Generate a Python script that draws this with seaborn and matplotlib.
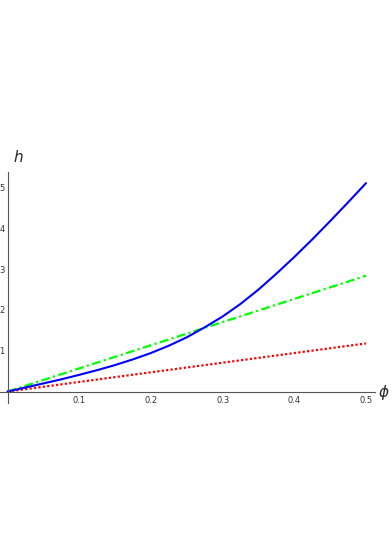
import numpy as np
import pandas as pd
import matplotlib
matplotlib.use("Agg")
import matplotlib.pyplot as plt
import seaborn as sns
from matplotlib.ticker import FixedLocator

# Values
phi = [0.0, 0.025, 0.05, 0.075, 0.1, 0.125, 0.15, 0.175, 0.2, 0.225, 0.25,
       0.275, 0.3, 0.325, 0.35, 0.375, 0.4, 0.425, 0.45, 0.475, 0.5]
h_blue = [0.0, 0.10, 0.20, 0.30, 0.41, 0.525, 0.65, 0.79, 0.945, 1.125, 1.33,
          1.575, 1.84, 2.15, 2.50, 2.89, 3.30, 3.73, 4.18, 4.64, 5.11]
phi_lin = [0.0, 0.5]
h_green = [0.0, 2.84]
h_red = [0.0, 1.18]

x_major = [0.1, 0.2, 0.3, 0.4, 0.5]
x_labels = ["0.1", "0.2", "0.3", "0.4", "0.5"]
y_major = [1, 2, 3, 4, 5]
y_labels = ["1", "2", "3", "4", "5"]

sns.set_style("white")

fig = plt.figure(figsize=(3.92, 5.55), dpi=100)
ax = fig.add_axes([0.0, 0.2739, 0.9566, 0.4167])

df_blue = pd.DataFrame({"phi": phi, "h": h_blue})
df_lin = pd.DataFrame({"phi": phi_lin, "green": h_green, "red": h_red})

sns.lineplot(data=df_lin, x="phi", y="red", ax=ax, color=(1, 0, 0),
             linewidth=1.6, linestyle=(0, (1, 1)))
sns.lineplot(data=df_lin, x="phi", y="green", ax=ax, color=(0, 1, 0),
             linewidth=1.6, linestyle=(0, (4, 1.5, 1, 1.5)))
sns.lineplot(data=df_blue, x="phi", y="h", ax=ax, color=(0, 0, 1), linewidth=1.5)

ax.set_xlim(-0.0105, 0.5125)
ax.set_ylim(-0.28, 5.39)

for s in ["top", "right"]:
    ax.spines[s].set_visible(False)
for s in ["left", "bottom"]:
    ax.spines[s].set_position(("data", 0))
    ax.spines[s].set_color("#555555")
    ax.spines[s].set_linewidth(0.8)

ax.xaxis.set_major_locator(FixedLocator(x_major))
ax.set_xticklabels(x_labels)
ax.xaxis.set_minor_locator(FixedLocator([m / 50 for m in range(1, 26) if m % 5]))
ax.yaxis.set_major_locator(FixedLocator(y_major))
ax.set_yticklabels(y_labels)
ax.yaxis.set_minor_locator(FixedLocator([m / 5 for m in range(1, 27) if m % 5]))

ax.tick_params(which="both", direction="in", color="#555555", labelsize=6,
               labelcolor="#333333", width=0.7)
ax.tick_params(which="major", length=4, pad=3)
ax.tick_params(which="minor", length=2.2)
ax.tick_params(axis="y", pad=2)

ax.set_xlabel("")
ax.set_ylabel("")
fig.text(18 / 392, 1 - 157 / 555, "$h$", fontsize=11, ha="center", va="center")
fig.text(384 / 392, 1 - 392 / 555, r"$\phi$", fontsize=11, ha="center", va="center")

fig.savefig("out.png", dpi=100)
